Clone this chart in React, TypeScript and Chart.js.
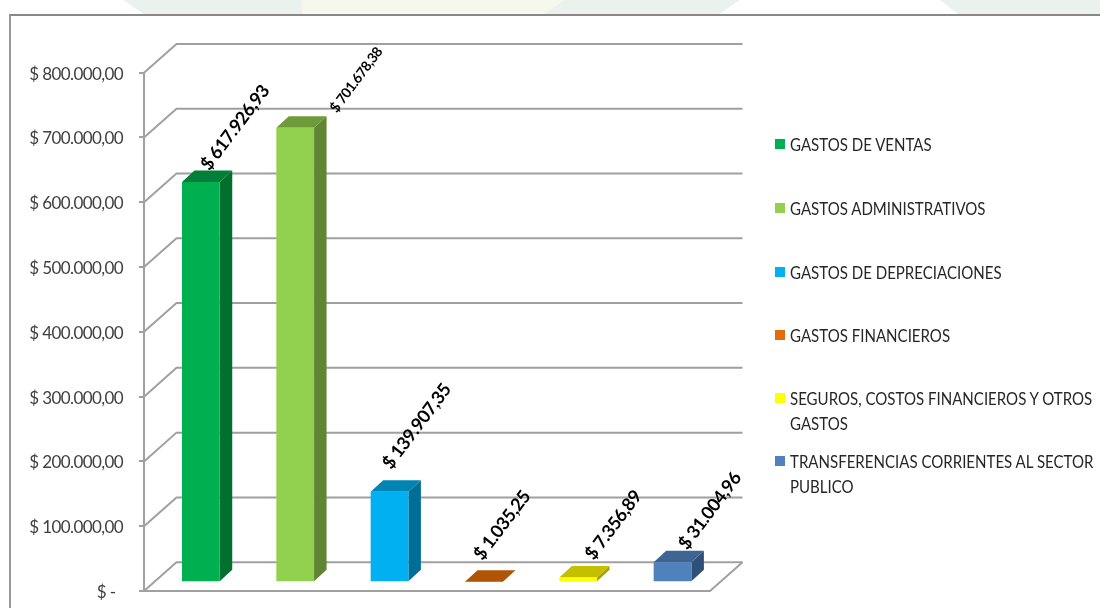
import React, { useEffect, useRef } from "react";
import { Chart, registerables } from "chart.js";

Chart.register(...registerables);

const categories = [
  "GASTOS DE VENTAS",
  "GASTOS ADMINISTRATIVOS",
  "GASTOS DE DEPRECIACIONES",
  "GASTOS FINANCIEROS",
  "SEGUROS, COSTOS FINANCIEROS Y OTROS GASTOS",
  "TRANSFERENCIAS CORRIENTES AL SECTOR PUBLICO",
];
const values = [617926.93, 701678.38, 139907.35, 1035.25, 7356.89, 31004.96];
const valueLabels = ["$ 617.926,93", "$ 701.678,38", "$ 139.907,35", "$ 1.035,25", "$ 7.356,89", "$ 31.004,96"];
const frontColors = ["#00B050", "#92D050", "#00B0F0", "#E36C0A", "#FFFF00", "#4F81BD"];
const sideColors = ["#00702F", "#5F8532", "#006F98", "#904506", "#A3A300", "#2F5078"];
const topColors = ["#007F39", "#6E9B3A", "#0084B4", "#B05405", "#C4C000", "#3F6595"];
const labelOffsetX = [4, 38, -3, -6, 11, 10];
const labelOffsetY = [-14, -17, -25, -24, -20, -15];
const labelFontSizes = [18, 14, 18, 18, 18, 18];
const legendTops = [132, 196, 260, 323, 386, 449];

const FONT = 'Lato, "Noto Sans", sans-serif';
const GRID = "#A0A0A0";
const DEPTH_X = 32.5;
const DEPTH_Y = -28.8;
const BAR_SHIFT_X = 9.7;
const BAR_SHIFT_Y = -8.7;
const BAR_DEPTH_X = 12.5;
const BAR_DEPTH_Y = -11.5;
const TICK_LABEL_SHIFT = 1.5;

const wallPlugin = {
  id: "walls",
  beforeDraw(chart: any) {
    chart.ctx.letterSpacing = "-0.6px";
  },
  beforeDatasetsDraw(chart: any) {
    const { ctx, chartArea, scales } = chart;
    const y = scales.y;
    ctx.save();
    ctx.strokeStyle = GRID;
    ctx.lineWidth = 2;
    y.ticks.forEach((t: any) => {
      const py = y.getPixelForValue(t.value);
      ctx.beginPath();
      ctx.moveTo(chartArea.left, py);
      ctx.lineTo(chartArea.left + DEPTH_X, py + DEPTH_Y);
      ctx.lineTo(chartArea.right + DEPTH_X, py + DEPTH_Y);
      ctx.stroke();
    });
    const fy = y.getPixelForValue(0);
    ctx.beginPath();
    ctx.moveTo(chartArea.left, fy);
    ctx.lineTo(chartArea.right, fy);
    ctx.lineTo(chartArea.right + DEPTH_X, fy + DEPTH_Y);
    ctx.stroke();
    ctx.restore();

    // bars sit part-way back on the floor
    ctx.save();
    ctx.translate(BAR_SHIFT_X, BAR_SHIFT_Y);
    const meta = chart.getDatasetMeta(0);
    meta.data.forEach((bar: any, i: number) => {
      const { x, y: top, base, width } = bar.getProps(["x", "y", "base", "width"], true);
      const l = x - width / 2;
      const r = x + width / 2;
      ctx.fillStyle = sideColors[i];
      ctx.beginPath();
      ctx.moveTo(r, top);
      ctx.lineTo(r + BAR_DEPTH_X, top + BAR_DEPTH_Y);
      ctx.lineTo(r + BAR_DEPTH_X, base + BAR_DEPTH_Y);
      ctx.lineTo(r, base);
      ctx.closePath();
      ctx.fill();
      ctx.fillStyle = topColors[i];
      ctx.beginPath();
      ctx.moveTo(l, top);
      ctx.lineTo(l + BAR_DEPTH_X, top + BAR_DEPTH_Y);
      ctx.lineTo(r + BAR_DEPTH_X, top + BAR_DEPTH_Y);
      ctx.lineTo(r, top);
      ctx.closePath();
      ctx.fill();
    });
  },
  afterDatasetsDraw(chart: any) {
    const { ctx } = chart;
    ctx.restore();
    const meta = chart.getDatasetMeta(0);
    meta.data.forEach((bar: any, i: number) => {
      ctx.save();
      ctx.translate(bar.x + BAR_SHIFT_X + labelOffsetX[i], bar.y + BAR_SHIFT_Y + labelOffsetY[i]);
      ctx.rotate((-53 * Math.PI) / 180);
      ctx.font = `bold ${labelFontSizes[i]}px ${FONT}`;
      ctx.letterSpacing = "-0.5px";
      ctx.fillStyle = "#000000";
      ctx.textAlign = "left";
      ctx.textBaseline = "middle";
      ctx.fillText(valueLabels[i], 0, 0);
      ctx.restore();
    });
  },
};

const watermark = [
  { color: "#EBF1ED", points: "123px 0, 144px 14px, 302px 14px, 302px 0" },
  { color: "#F6F8EE", points: "302px 0, 302px 14px, 544px 14px, 565px 0" },
  { color: "#EBF1ED", points: "565px 0, 544px 14px, 719px 14px, 740px 0" },
  { color: "#EBF1ED", points: "940px 0, 958px 14px, 1100px 14px, 1100px 0" },
];

export default function App() {
  const ref = useRef<HTMLCanvasElement>(null);
  useEffect(() => {
    const chart = new Chart(ref.current!, {
      type: "bar",
      data: {
        labels: categories,
        datasets: [
          {
            data: values,
            backgroundColor: frontColors,
            barPercentage: 0.4,
            categoryPercentage: 1,
            clip: false as any,
          },
        ],
      },
      options: {
        animation: false,
        responsive: false,
        devicePixelRatio: 1,
        layout: { padding: { top: 72.7, right: 390, bottom: 17, left: 0 } },
        plugins: { legend: { display: false }, tooltip: { enabled: false } },
        scales: {
          x: { display: false },
          y: {
            min: 0,
            max: 800000,
            afterFit: (s: any) => {
              s.width = 144;
              s.paddingTop = 0;
              s.paddingBottom = 0;
              if (!s.__shifted) {
                s.__shifted = true;
                const drawLabels = s.drawLabels;
                s.drawLabels = function (area: any) {
                  s.ctx.save();
                  s.ctx.translate(0, TICK_LABEL_SHIFT);
                  drawLabels.call(s, area);
                  s.ctx.restore();
                };
              }
            },
            border: { display: true, color: GRID, width: 2 },
            grid: { drawOnChartArea: false, drawTicks: true, tickLength: 5, color: GRID, lineWidth: 2 },
            ticks: {
              stepSize: 100000,
              padding: 16,
              color: "#404040",
              font: { family: FONT, size: 17 },
              callback: (v: any) =>
                v === 0 ? "$ -  " : "$ " + (v as number).toLocaleString("de-DE") + ",00",
            },
          },
        },
      },
      plugins: [wallPlugin],
    });
    return () => chart.destroy();
  }, []);

  return (
    <div style={{ position: "absolute", left: 0, top: 0, width: 1100, height: 608, background: "#FFFFFF", overflow: "hidden" }}>
      {watermark.map((w, i) => (
        <div
          key={i}
          style={{ position: "absolute", left: 0, top: 0, width: 1100, height: 14, background: w.color, clipPath: `polygon(${w.points})` }}
        />
      ))}
      <div
        style={{
          position: "absolute",
          left: 9,
          top: 14,
          width: 1091,
          height: 594,
          background: "#FFFFFF",
          borderTop: "2px solid #888888",
          borderLeft: "2px solid #999999",
          boxSizing: "border-box",
        }}
      />
      <canvas ref={ref} width={1100} height={608} style={{ position: "absolute", left: 0, top: 0, width: 1100, height: 608 }} />
      {categories.map((c, i) => (
        <React.Fragment key={c}>
          <span style={{ position: "absolute", left: 775, top: legendTops[i] + 7, width: 10, height: 10, background: frontColors[i] }} />
          <div
            style={{
              position: "absolute",
              left: 790,
              top: legendTops[i],
              width: 350,
              fontFamily: FONT,
              fontSize: 17,
              lineHeight: "25px",
              color: "#262626",
              transform: "scaleX(0.885)",
              transformOrigin: "left top",
            }}
          >
            {c}
          </div>
        </React.Fragment>
      ))}
    </div>
  );
}
